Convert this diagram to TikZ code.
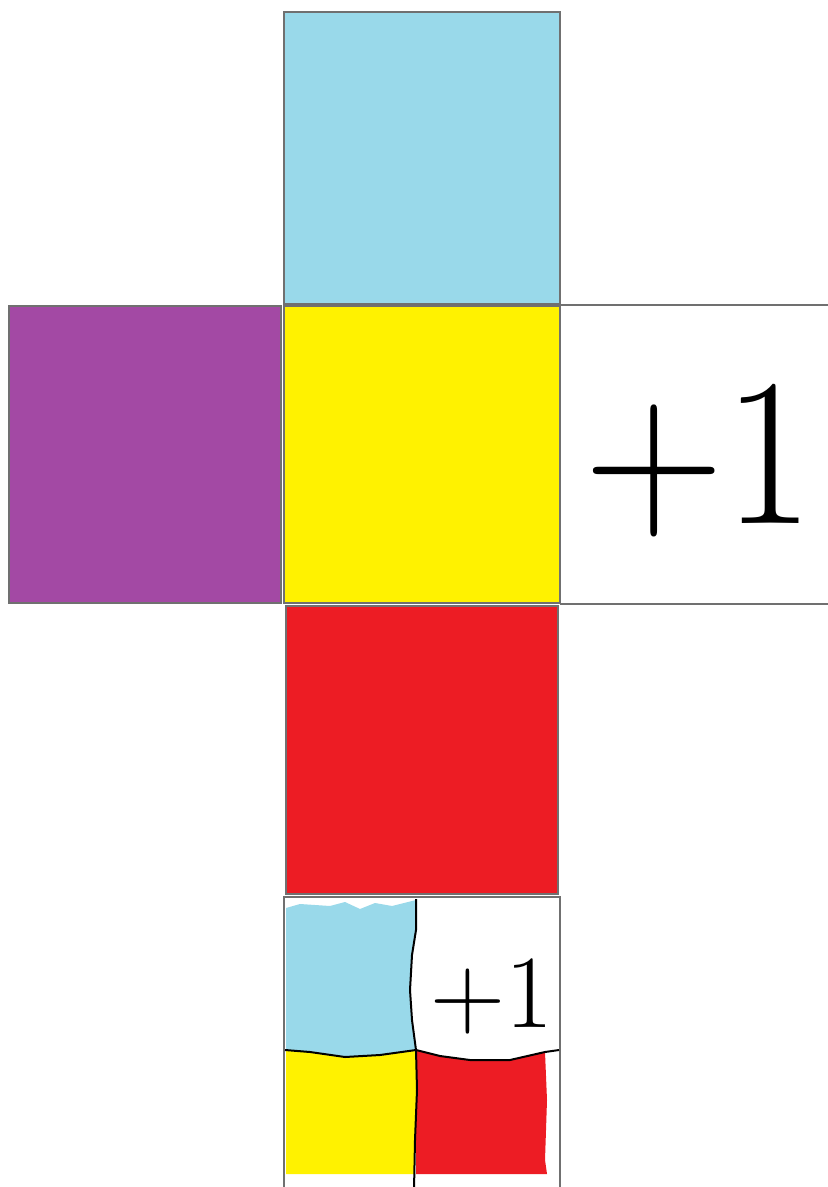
\documentclass[tikz,border=0pt]{standalone}
\definecolor{pcyan}{HTML}{99D9EA}
\definecolor{ppurple}{HTML}{A349A4}
\definecolor{pyellow}{HTML}{FFF200}
\definecolor{pred}{HTML}{ED1C24}
\definecolor{edgegray}{HTML}{707070}
\begin{document}
\begin{tikzpicture}[x=0.75pt,y=-0.75pt,
  face/.style={draw=edgegray, line width=1.5pt},
  divider/.style={draw=black, line width=1.5pt, line join=round},
  label/.style={anchor=base, inner sep=0pt, text=black}]
\useasboundingbox (0,0) rectangle (827,1187);
\fill[white] (0,0) rectangle (827,1187);
% net faces
\draw[face, fill=pcyan] (284,12) rectangle (560,304);
\draw[face, fill=ppurple] (9,306) rectangle (281,603);
\draw[face, fill=pyellow] (284,306) rectangle (560,603);
\draw[face] (560,305) -- (830,305) (560,604) -- (830,604);
\draw[face, fill=pred] (286,606) rectangle (558,894);
\node[label] (bigone) at (699,523) {\scalebox{0.92}[1]{\fontsize{158}{158}\selectfont +1}};
% bottom face (mixed)
\fill[pcyan] (286,908) -- (300,904) -- (330,906) -- (345,902) -- (360,909) -- (375,903) -- (392,906) -- (416,900)
  -- (416,930) -- (412,955) -- (410,990) -- (412,1020) -- (416,1050)
  -- (380,1055) -- (345,1057) -- (310,1052) -- (286,1050) -- cycle;
\fill[pyellow] (286,1050) -- (310,1052) -- (345,1057) -- (380,1055) -- (416,1050)
  -- (417,1090) -- (415,1140) -- (414,1174) -- (286,1174) -- cycle;
\fill[pred] (416,1050) -- (440,1056) -- (470,1060) -- (510,1060) -- (545,1052)
  -- (547,1100) -- (545,1160) -- (547,1174) -- (416,1174) -- cycle;
\draw[face] (284,1190) -- (284,897) -- (560,897) -- (560,1190);
\draw[divider] (416,899) -- (416,930) -- (412,955) -- (410,990) -- (412,1020) -- (416,1050)
  -- (417,1090) -- (415,1140) -- (414,1190);
\draw[divider] (285,1050) -- (310,1052) -- (345,1057) -- (380,1055) -- (416,1050)
  -- (440,1056) -- (470,1060) -- (510,1060) -- (545,1052) -- (559,1050);
\node[label] (smallone) at (492,1027) {\fontsize{78}{78}\selectfont +1};
\end{tikzpicture}
\end{document}
